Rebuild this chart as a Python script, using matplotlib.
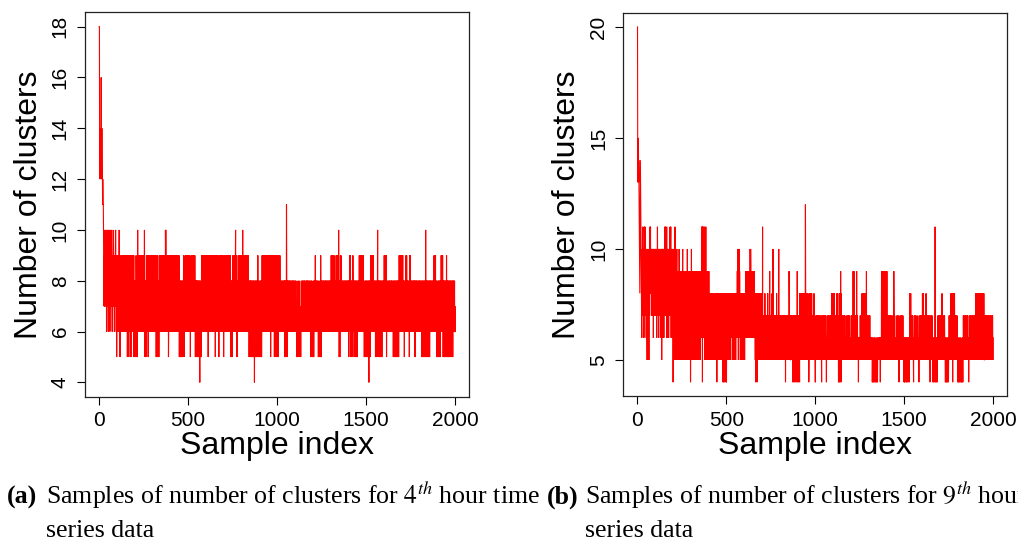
import numpy as np
import matplotlib
matplotlib.use("Agg")
import matplotlib.pyplot as plt

# ---------------- data ----------------
# one character per MCMC sample: '4'..'9' = 4..9, 'a'=10, 'b'=11, ... 'k'=20
left_trace_rows = [
    "iiedcedece dgecdedccb cbbba98797 a879789a87 968a97879a 8697a98a79 69879a8787 a986968787 a978786978 79a8786957",
    "7897867968 78a7896578 8769787968 7978698796 8797867978 6879786957 8769785968 7986797857 6879687869 7686957868",
    "6857685976 576857a768 7968796978 6897686978 7968797869 8697a68578 7685796867 8697857968 7869786978 6798678697",
    "7869786978 6987678697 5768579768 6576857968 7968797869 8697869786 7968798697 86a9a78697 8697869785 6879687869",
    "7867968797 6878697869 7686979678 6869786978 7697868798 5768576857 6857685768 5768967857 6879687869 7686978679",
    "6879768697 6857687968 7968796978 6897686978 5768578678 6857685768 5768546857 6857697869 7869786978 6978697869",
    "7869786978 6957686978 7968796978 6897686978 7968796978 6957687968 7869786978 6857696978 7968796978 6978697865",
    "7869786978 6878697869 7686979678 6869786978 5768578657 6978697869 787969a786 6978576878 6978967869 7968796978",
    "786978a786 9786978697 6978697868 7968796978 6857685768 6857685768 5768576857 6847685768 5768576857 6978576857",
    "5768576857 6857697869 7869796978 6978697869 7968796978 6978697869 7685796978 6978697869 7968595768 6978597865",
    "7869757868 6978697867 6787678676 7867867678 6857685768 57b9657686 7867867678 6787678676 7867686768 6787678676",
    "6786787676 5767576867 5676857676 6757686767 7867867678 6787678676 7686787678 6787678676 6787678656 7686785765",
    "6576857686 7867968676 7867867678 6575686765 7685976857 6787678676 7867867678 6787678676 7867867678 6787678676",
    "7869786978 6978697869 6787678676 7968796978 79687a6857 6857696797 6787678676 7867867678 6787678676 7867867678",
    "6857686797 6978576867 6857697686 6857685768 5768576857 6787678676 7969797867 6787698676 7869786765 6785768576",
    "6857685768 5768547685 6857697867 6978697869 6787678676 6857685768 5768a76857 6857685768 5768576857 6787678676",
    "6978697869 7869576867 6787678676 7867867678 6787678676 7857685768 5768576857 6857685768 6857697869 7968796978",
    "7968797867 6787578676 7869786978 6787678676 6857969768 6787678676 7867867678 6857685768 6787678676 7867867678",
    "6787678676 6857685768 5768576857 6857a85768 5768576857 6857685768 6787678676 7867867678 6978697869 6787678657",
    "5768576857 6857685768 6978697869 6857685768 5768576857 6978576857 6857685768 5768576857 6857685768 6787678676",
]

right_trace_rows = [
    "kfedefdedc ba98abedcb a9876a897a b9a8796a8b a9b8a79a86 9a8759a896 a8795a89a8 b9ab8a9879 a8a97a8a96 8a97a89a78",
    "9a87a9a869 a8b9a87a96 a9879a8a97 8a69a857a9 a86a7a9869 8a9b7a8b9a 79a8b6a8a7 9a8696a978 8a9b79ab86 9a7869a87a",
    "4768a69785 6b87695768 9a86957686 8596a87958 6957869786 5869a78695 7869586957 8695768697 a869586958 7695786948",
    "786a869578 6958697869 5786958697 7869586957 8695768697 6958697869 7b86b4b869 8b97a86b95 7869b86958 6957869586",
    "6978576867 5786857686 7685676857 6757686756 7685674857 6756857686 7685676857 6867568676 4685476857 4857676847",
    "4685768676 5768676857 6857686768 7685786857 6876858676 6857686786 7968a97586 7a86976857 6857686768 7685676857",
    "6857686797 6978697869 7869786978 697a86a978 6978697869 7869786978 6857485768 5746857686 7685676857 6857686768",
    "565b656756 5676568656 7656567657 5686567656 5769567656 6576568656 56a6567657 5676567656 5686567657 6576a65676",
    "6576567656 5676567656 5676567656 5746567656 6576567656 5698656765 5676567656 5674565746 5676547657 6546567695",
    "4656745676 5486567686 5876568656 7686567856 5867c86756 5686576856 5674568657 6586567658 5676567656 5686567654",
    "4656756567 5676567656 6576567656 5676546567 5676567656 6576567656 5646567656 5676567656 5676567656 5868567686",
    "6858676865 6576567656 7865686756 4564586748 5695486756 5676567656 6576567656 5656567656 6576567656 5676565656",
    "5676567656 5696567956 5676567656 6596567656 5646565656 6576567656 5686568676 5876568656 8676586956 5676567656",
    "5676567656 5656565656 4565454565 6545656545 5456545654 5656565656 5656545656 5696587968 6596789678 5687965796",
    "5696567656 5676567656 5676567656 5676565656 5976567656 5656565676 5676567656 4656567656 5676567656 5676565646",
    "5465456565 6546545656 5456565646 5686868656 5676567656 6546567656 5676567656 5656567656 5646567656 6576567656",
    "5686568656 5676567656 5686567656 5676567656 5676546567 5676567656 5465456565 654b545656 5465456567 5676567656",
    "5676567656 5686567656 5676567656 5465456545 6545656545 5676567656 5686568676 5648568656 5686567656 5676567656",
    "5465456545 6545656545 5456545654 6576567656 5676567656 5676567656 5646567656 5676567656 5676567656 5676567656",
    "5686568656 8676586856 5686867686 5868567686 6858676865 5676567656 6576567656 5676567656 5676567656 5676567656",
]

left_yticks = [4, 6, 8, 10, 12, 14, 16, 18]
right_yticks = [5, 10, 15, 20]
xticks = [0, 500, 1000, 1500, 2000]
xlabel_text = "Sample index"
ylabel_text = "Number of clusters"


def decode(rows):
    return np.array([int(c, 36) for c in "".join(rows).replace(" ", "")])


left_vals = decode(left_trace_rows)
right_vals = decode(right_trace_rows)

# ---------------- figure ----------------
plt.rcParams["font.family"] = ["Liberation Sans", "DejaVu Sans"]
plt.rcParams["mathtext.fontset"] = "stix"

W, H = 1018, 543
fig = plt.figure(figsize=(W / 100, H / 100), dpi=100)


def px_axes(x0, y0, x1, y1):
    return fig.add_axes([x0 / W, 1 - y1 / H, (x1 - x0) / W, (y1 - y0) / H])


ax1 = px_axes(85, 12.3, 469.3, 396.7)
ax2 = px_axes(623.3, 12.7, 1007.3, 396.4)


def style(ax, vals, yticks):
    n = len(vals)
    x = np.arange(1, n + 1)
    ax.plot(x, vals, color="#ff0000", lw=0.8, solid_joinstyle="miter")
    span = n - 1
    ax.set_xlim(1 - 0.04 * span, n + 0.04 * span)
    lo, hi = min(yticks[0], vals.min()), max(yticks[-1], vals.max())
    ax.set_ylim(lo - 0.04 * (hi - lo), hi + 0.04 * (hi - lo))
    ax.set_xticks(xticks)
    ax.set_yticks(yticks)
    ax.tick_params(axis="both", direction="out", length=5.5, width=0.8,
                   labelsize=15, colors="black")
    ax.tick_params(axis="x", pad=5)
    ax.tick_params(axis="y", pad=5.5)
    for lab in ax.get_yticklabels():
        lab.set_rotation(90)
        lab.set_va("center")
    for sp in ax.spines.values():
        sp.set_linewidth(0.9)
        sp.set_color("#222222")
    ax.set_xlabel(xlabel_text, fontsize=23)
    ax.set_ylabel(ylabel_text, fontsize=23)
    ax.xaxis.set_label_coords(0.5, -0.09)
    ax.yaxis.set_label_coords(-0.107, 0.5)


style(ax1, left_vals, left_yticks)
style(ax2, right_vals, right_yticks)

# ---------------- captions ----------------
cap_kw = dict(fontfamily="Liberation Serif", fontsize=18.6, va="baseline", ha="left")
y1 = 1 - 504 / H
y2 = 1 - 537 / H
fig.text(7 / W, y1, "(a)", fontweight="bold", **cap_kw)
fig.text(46 / W, y1, r"Samples of number of clusters for $4^{th}$ hour time", **cap_kw)
fig.text(46 / W, y2, "series data", **cap_kw)
fig.text(547 / W, y1, "(b)", fontweight="bold", **cap_kw)
fig.text(585 / W, y1, r"Samples of number of clusters for $9^{th}$ hour time", **cap_kw)
fig.text(585 / W, y2, "series data", **cap_kw)

fig.savefig("out.png", dpi=100)
